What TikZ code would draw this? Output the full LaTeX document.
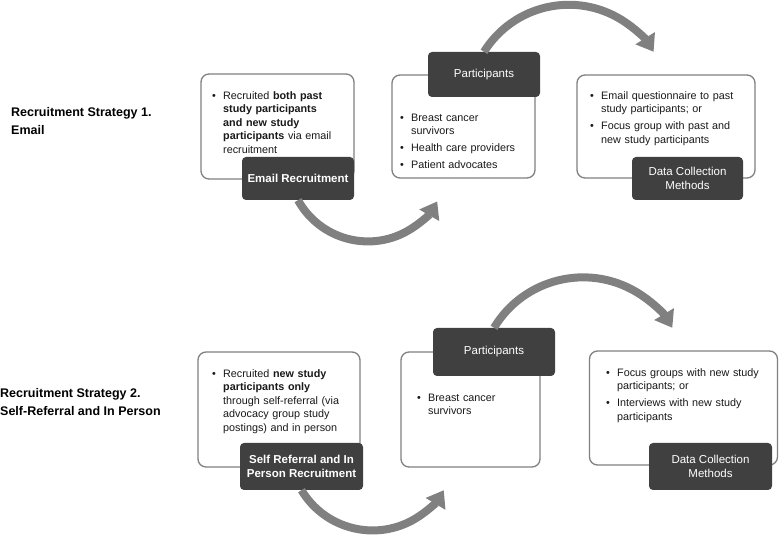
\documentclass[tikz,border=0pt]{standalone}
\usepackage{fontspec}
\setmainfont{Liberation Sans}
\usetikzlibrary{arrows.meta}

\definecolor{boxline}{HTML}{808080}
\definecolor{tagfill}{HTML}{404040}
\definecolor{flowgray}{HTML}{808080}

% one bullet point with a hanging indent
\newcommand{\bul}[1]{\par\parskip=3.5pt\hangindent=11pt\hangafter=1\noindent\makebox[11pt][l]{\textbullet}#1\par}

\begin{document}
\begin{tikzpicture}[
    x=1pt, y=1pt,
    card/.style={rectangle, draw=boxline, line width=1.3pt, fill=white, rounded corners=8pt},
    tagbox/.style={rectangle, fill=tagfill, text=white, rounded corners=4pt, inner sep=2pt, align=center, font=\fontsize{11.5}{13.5}\selectfont},
    txt/.style={anchor=north west, inner sep=0pt, text width=190pt, align=left, text=black!90, font=\fontsize{10.8}{13.5}\selectfont},
    heading/.style={anchor=north west, inner sep=0pt, align=left, font=\bfseries\fontsize{12.5}{18}\selectfont},
    flow/.style={draw=flowgray, line width=8pt, -{Triangle[width=22pt,length=16pt]}}
]
    \useasboundingbox (0,0) rectangle (779,535);

    % strategy 1: email
    \node[heading] (s1) at (11,428) {Recruitment Strategy 1.\\ Email};

    \node[card, minimum width=153pt, minimum height=105pt] (b1) at (277.5,408.5) {};
    \node[card, minimum width=143pt, minimum height=103pt] (b2) at (463.5,408.5) {};
    \node[card, minimum width=178pt, minimum height=103pt] (b3) at (666,408.5) {};

    \node[txt] (t1) at (212,453) {\bul{Recruited \textbf{both past}\newline \textbf{study participants}\newline \textbf{and new study}\newline \textbf{participants} via email\newline recruitment}};
    \node[txt] (t2) at (400,431) {\bul{Breast cancer\newline survivors}\bul{Health care providers}\bul{Patient advocates}};
    \node[txt] (t3) at (590,453) {\bul{Email questionnaire to past\newline study participants; or}\bul{Focus group with past and\newline new study participants}};

    \node[tagbox, minimum width=112pt, minimum height=43pt] (erec) at (298,356.5) {\textbf{Email Recruitment}};
    \node[tagbox, minimum width=112pt, minimum height=45pt] (p1) at (484,460.5) {Participants};
    \node[tagbox, minimum width=111pt, minimum height=43pt] (d1) at (687.5,356.5) {Data Collection\\ Methods};

    \draw[flow] (erec.south) arc[start angle=209, end angle=330, radius=80];
    \draw[flow] (p1.north) arc[start angle=148, end angle=32, radius=100];

    % strategy 2: self-referral and in person
    \node[heading] (s2) at (0,147) {Recruitment Strategy 2.\\ Self-Referral and In Person};

    \node[card, minimum width=162pt, minimum height=115pt] (c1) at (279,125.5) {};
    \node[card, minimum width=139pt, minimum height=115pt] (c2) at (470.5,125.5) {};
    \node[card, minimum width=188pt, minimum height=114pt] (c3) at (683.5,127) {};

    \node[txt] (u1) at (212,175) {\bul{Recruited \textbf{new study}\newline \textbf{participants only}\newline through self-referral (via\newline advocacy group study\newline postings) and in person}};
    \node[txt] (u2) at (417,151) {\bul{Breast cancer\newline survivors}};
    \node[txt] (u3) at (606,176) {\bul{Focus groups with new study\newline participants; or}\bul{Interviews with new study\newline participants}};

    \node[tagbox, minimum width=123pt, minimum height=47pt] (srec) at (301.5,68.5) {\textbf{Self Referral and In}\\ \textbf{Person Recruitment}};
    \node[tagbox, minimum width=122pt, minimum height=48pt] (p2) at (494,183) {Participants};
    \node[tagbox, minimum width=123pt, minimum height=47pt] (d2) at (710.5,68.5) {Data Collection\\ Methods};

    \draw[flow] (srec.south) arc[start angle=211, end angle=329, radius=83];
    \draw[flow] (p2.north) arc[start angle=149, end angle=31, radius=104];
\end{tikzpicture}
\end{document}
